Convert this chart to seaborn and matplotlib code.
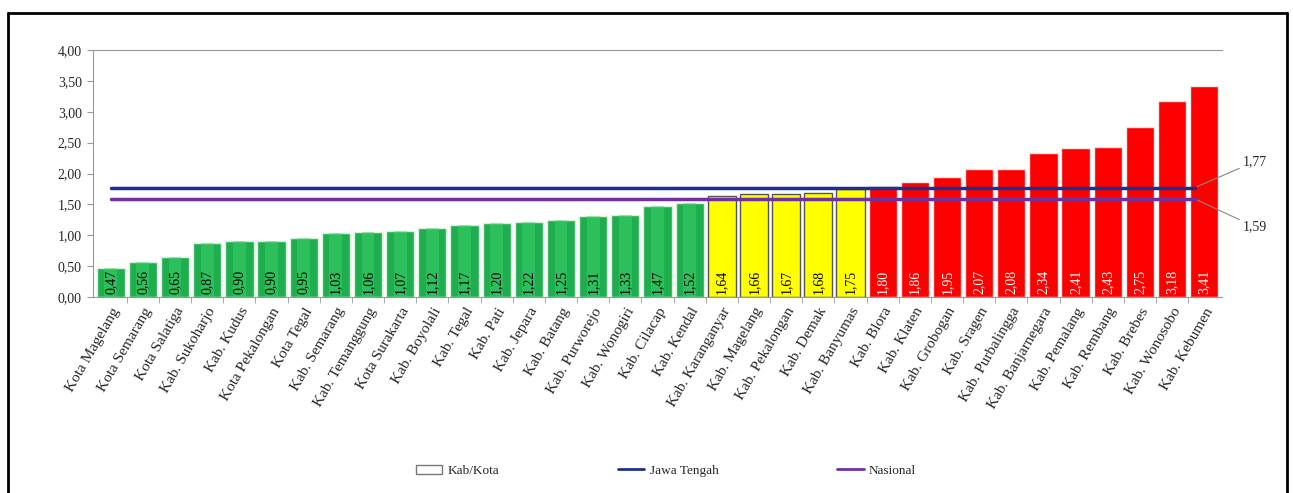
import matplotlib
matplotlib.use("Agg")
import matplotlib.pyplot as plt
import seaborn as sns
import pandas as pd
from matplotlib.patches import Patch
from matplotlib.lines import Line2D

regions = ["Kota Magelang", "Kota Semarang", "Kota Salatiga", "Kab. Sukoharjo", "Kab. Kudus",
           "Kota Pekalongan", "Kota Tegal", "Kab. Semarang", "Kab. Temanggung", "Kota Surakarta",
           "Kab. Boyolali", "Kab. Tegal", "Kab. Pati", "Kab. Jepara", "Kab. Batang",
           "Kab. Purworejo", "Kab. Wonogiri", "Kab. Cilacap", "Kab. Kendal", "Kab. Karanganyar",
           "Kab. Magelang", "Kab. Pekalongan", "Kab. Demak", "Kab. Banyumas", "Kab. Blora",
           "Kab. Klaten", "Kab. Grobogan", "Kab. Sragen", "Kab. Purbalingga", "Kab. Banjarnegara",
           "Kab. Pemalang", "Kab. Rembang", "Kab. Brebes", "Kab. Wonosobo", "Kab. Kebumen"]
values = [0.47, 0.56, 0.65, 0.87, 0.90, 0.90, 0.95, 1.03, 1.06, 1.07,
          1.12, 1.17, 1.20, 1.22, 1.25, 1.31, 1.33, 1.47, 1.52, 1.64,
          1.66, 1.67, 1.68, 1.75, 1.80, 1.86, 1.95, 2.07, 2.08, 2.34,
          2.41, 2.43, 2.75, 3.18, 3.41]
groups = ["low"] * 19 + ["mid"] * 5 + ["high"] * 11
jateng = 1.77
nasional = 1.59
yticks = [0.0, 0.5, 1.0, 1.5, 2.0, 2.5, 3.0, 3.5, 4.0]

df = pd.DataFrame({"region": regions, "value": values, "group": groups})
palette = {"low": "#1fae4e", "mid": "#ffff00", "high": "#ff0000"}
edges = {"low": "#d8f0dc", "mid": "#555555", "high": "#e8e8e8"}
txtcol = {"low": "black", "mid": "black", "high": "white"}

sns.set_style("white")
plt.rcParams["font.family"] = ["Liberation Serif", "DejaVu Serif"]

fig = plt.figure(figsize=(12.93, 4.93), dpi=100)
ax = fig.add_axes([93 / 1293, 1 - 297 / 493, (1222 - 93) / 1293, (297 - 50) / 493])

sns.barplot(data=df, x="region", y="value", hue="group", palette=palette,
            dodge=False, legend=False, width=0.88, ax=ax, saturation=1)

xs = list(range(len(values)))
bars = [p for p in ax.patches if p.get_height() > 0]
bars.sort(key=lambda p: p.get_x())
for i, bar in enumerate(bars):
    g = groups[i]
    bar.set_edgecolor(edges[g])
    bar.set_linewidth(1.0)
    if g == "low":
        ax.bar(bar.get_x() + bar.get_width() / 2, values[i], width=bar.get_width() * 0.45,
               color="#3fd46e", alpha=0.45, linewidth=0, zorder=bar.get_zorder() + 0.1)
    lab = f"{values[i]:.2f}".replace(".", ",")
    ax.text(bar.get_x() + bar.get_width() / 2, 0.05, lab, rotation=90, ha="center",
            va="bottom", fontsize=10, color=txtcol[g], zorder=5)

ax.plot([0, 33.7], [jateng, jateng], color="#1f2f8f", lw=2.5, zorder=6)
ax.plot([0, 33.7], [nasional, nasional], color="#7030a0", lw=2.5, zorder=6)

ax.annotate("1,77", xy=(33.7, jateng), xytext=(48, 26), textcoords="offset pixels",
            fontsize=10, va="center", ha="left",
            arrowprops=dict(arrowstyle="-", color="#888888", lw=0.8, shrinkA=0, shrinkB=2))
ax.annotate("1,59", xy=(33.7, nasional), xytext=(48, -28), textcoords="offset pixels",
            fontsize=10, va="center", ha="left",
            arrowprops=dict(arrowstyle="-", color="#888888", lw=0.8, shrinkA=0, shrinkB=2))

ax.set_xlim(-0.55, len(values) - 0.45)
ax.set_ylim(0, 4.0)
ax.set_yticks(yticks)
ax.set_yticklabels([f"{t:.2f}".replace(".", ",") for t in yticks], fontsize=10)
ax.set_xticks(xs)
ax.set_xticklabels(regions, rotation=60, ha="right", rotation_mode="anchor", fontsize=11)
ax.set_xlabel("")
ax.set_ylabel("")
ax.set_xticks([x + 0.5 for x in xs[:-1]], minor=True)
ax.tick_params(axis="x", which="major", length=0, pad=6)
ax.tick_params(axis="x", which="minor", length=4, color="#999999", bottom=True)
ax.tick_params(axis="y", length=4, color="#999999", left=True, pad=4)
for s in ["left", "bottom", "top"]:
    ax.spines[s].set_color("#999999")
    ax.spines[s].set_linewidth(0.8)
ax.spines["right"].set_visible(False)

handles = [Patch(facecolor="white", edgecolor="#777777", label="Kab/Kota"),
           Line2D([0], [0], color="#1f2f8f", lw=2, label="Jawa Tengah"),
           Line2D([0], [0], color="#7030a0", lw=2, label="Nasional")]
fig.legend(handles=handles, loc="center", bbox_to_anchor=(0.515, 0.045), ncol=3,
           frameon=False, fontsize=9.5, columnspacing=9, handlelength=2.0, handletextpad=0.4)

for xd, yd in [([8 / 1293, 8 / 1293], [0, 1 - 13 / 493]),
               ([8 / 1293, 1287 / 1293], [1 - 13 / 493, 1 - 13 / 493]),
               ([1287 / 1293, 1287 / 1293], [0, 1 - 13 / 493])]:
    fig.add_artist(Line2D(xd, yd, color="black", lw=2, transform=fig.transFigure))

fig.savefig("out.png", dpi=100)
